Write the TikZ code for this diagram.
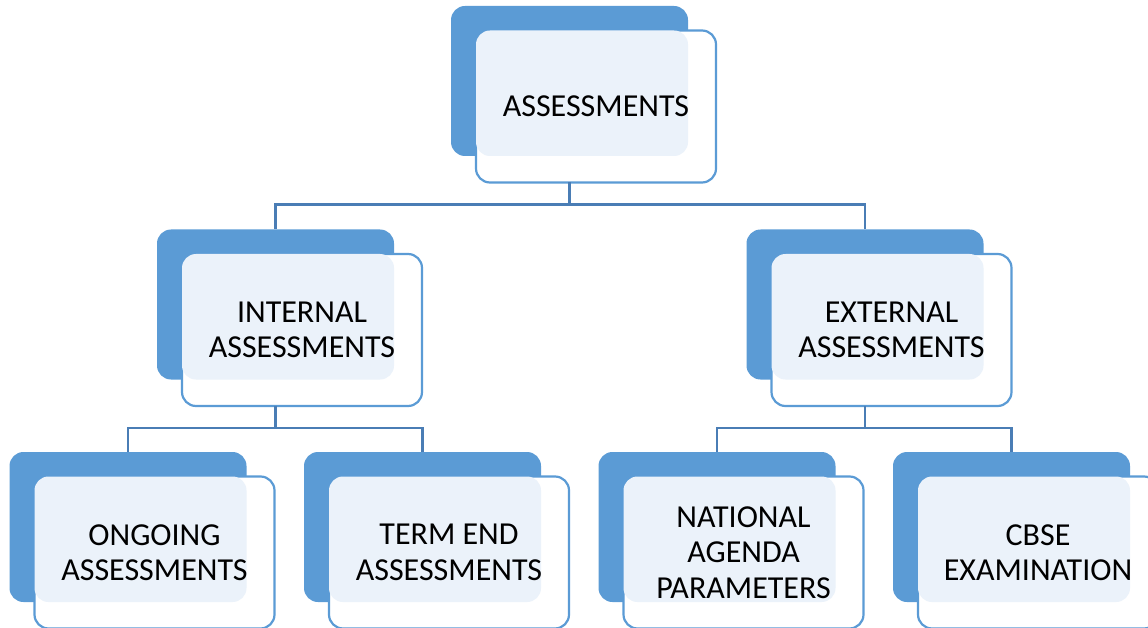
\documentclass[tikz,border=0pt]{standalone}
\usepackage{fontspec}
\setmainfont{Carlito}
\definecolor{accent}{HTML}{5B9BD5}
\definecolor{panelc}{HTML}{EBF2FA}
\definecolor{connc}{HTML}{4A7DB5}
\tikzset{
  backbox/.style={draw=none, fill=accent, rounded corners=14pt, minimum width=237pt, minimum height=150pt, outer sep=0pt, inner sep=0pt},
  frontbox/.style={draw=accent, line width=2.2pt, fill=white, rounded corners=14pt, minimum width=240pt, minimum height=152pt, outer sep=0pt, inner sep=0pt},
  panelfill/.style={fill=panelc, rounded corners=14pt},
  labeltext/.style={align=center, font=\fontsize{32}{35.5}\selectfont, text=black, inner sep=0pt},
  conn/.style={draw=connc, line width=2.6pt}
}
\newcommand\unitbox[4]{%
  \node[backbox] (#1-back) at (#2-26.5, #3-25.5) {};
  \node[frontbox] (#1) at (#2,#3) {};
  \fill[panelfill] (#1.north west) rectangle (#1-back.south east);
  \node[labeltext] (#1-text) at (#1.center) {#4};
}
\begin{document}
\begin{tikzpicture}[x=1pt,y=-1pt]
\useasboundingbox (0,0) rectangle (1148,628);
\clip (0,0) rectangle (1148,628);
\unitbox{top}{596}{106.5}{ASSESSMENTS}
\unitbox{int}{302}{330}{INTERNAL\\ASSESSMENTS}
\unitbox{ext}{891.5}{330}{EXTERNAL\\ASSESSMENTS}
\unitbox{ong}{154.5}{552.5}{ONGOING\\ASSESSMENTS}
\unitbox{term}{449}{552.5}{TERM END\\ASSESSMENTS}
\unitbox{nat}{743.5}{552.5}{NATIONAL\\AGENDA\\PARAMETERS}
\unitbox{cbse}{1038}{552.5}{CBSE\\EXAMINATION}
\draw[conn] (top-back.south |- top.south) -- ++(0,22) -| (int-back.north);
\draw[conn] (top-back.south |- top.south) -- ++(0,22) -| (ext-back.north);
\draw[conn] (int-back.south |- int.south) -- ++(0,22) -| (ong-back.north);
\draw[conn] (int-back.south |- int.south) -- ++(0,22) -| (term-back.north);
\draw[conn] (ext-back.south |- ext.south) -- ++(0,22) -| (nat-back.north);
\draw[conn] (ext-back.south |- ext.south) -- ++(0,22) -| (cbse-back.north);
\end{tikzpicture}
\end{document}
